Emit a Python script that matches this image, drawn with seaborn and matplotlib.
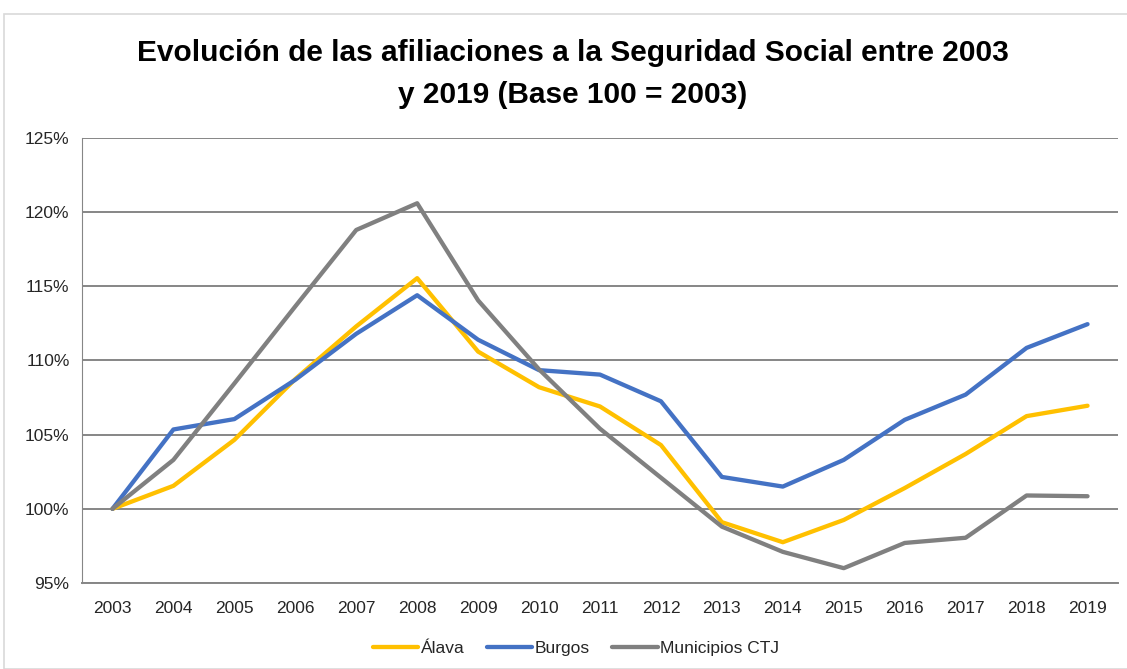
import numpy as np
import pandas as pd
import seaborn as sns
import matplotlib.pyplot as plt
from matplotlib.patches import Rectangle

# data (index, 2003 = 100)
years = [str(y) for y in range(2003, 2020)]
alava = [100.0, 101.55, 104.65, 108.75, 112.3, 115.55, 110.6, 108.2, 106.9,
         104.3, 99.1, 97.75, 99.25, 101.4, 103.7, 106.25, 106.95]
burgos = [100.0, 105.35, 106.05, 108.7, 111.8, 114.4, 111.4, 109.35, 109.05,
          107.25, 102.15, 101.5, 103.3, 106.0, 107.7, 110.85, 112.45]
ctj = [100.0, 103.3, 108.45, 113.65, 118.8, 120.6, 114.05, 109.4, 105.4,
       102.1, 98.8, 97.1, 96.0, 97.7, 98.05, 100.9, 100.85]
series = ["Álava", "Burgos", "Municipios CTJ"]
colors = {"Álava": "#FFC000", "Burgos": "#4472C4", "Municipios CTJ": "#808080"}

df = pd.DataFrame({
    "pos": list(range(len(years))) * 3,
    "valor": alava + burgos + ctj,
    "serie": [s for s in series for _ in years],
})

sns.set_style("white")
plt.rcParams['font.family'] = ['Liberation Sans', 'DejaVu Sans']

fig = plt.figure(figsize=(11.27, 6.69), dpi=100)
ax = fig.add_axes([82 / 1127, 1 - 583 / 669, (1118 - 82) / 1127, (583 - 138) / 669])

sns.lineplot(data=df, x="pos", y="valor", hue="serie", hue_order=series,
             palette=colors, linewidth=3.1, ax=ax)

ax.set_xlim(-0.5, len(years) - 0.5)
ax.set_ylim(95, 125)
ax.set_yticks(np.arange(95, 126, 5))
ax.set_yticklabels([f"{v}%" for v in range(95, 126, 5)], fontsize=12.5, color="#262626")
ax.set_xticks(range(len(years)))
ax.set_xticklabels(years, fontsize=12.5, color="#262626")
ax.tick_params(axis="x", length=0, pad=13)
ax.set_xticks(np.arange(-0.5, len(years), 1), minor=True)
ax.tick_params(axis="x", which="minor", length=7, color="#868686", width=1)
ax.tick_params(axis="y", length=6, color="#868686", width=1, pad=3)
ax.set_xlabel("")
ax.set_ylabel("")

ax.grid(axis="y", color="#868686", linewidth=1.4)
ax.set_axisbelow(True)
for side in ["top", "right"]:
    ax.spines[side].set_visible(False)
ax.spines["left"].set_color("#868686")
ax.spines["bottom"].set_color("#868686")
ax.spines["bottom"].set_linewidth(1.4)

leg = ax.legend(loc="center", bbox_to_anchor=(576 / 1127, 1 - 648 / 669),
                bbox_transform=fig.transFigure, ncol=3, frameon=False,
                fontsize=12.5, handlelength=2.6, columnspacing=1.3, handletextpad=0.15)
for t in leg.get_texts():
    t.set_color("#262626")

fig.text(573 / 1127, 1 - 53 / 669,
         "Evolución de las afiliaciones a la Seguridad Social entre 2003",
         ha="center", va="center", fontsize=21.5, fontweight="bold", color="black")
fig.text(573 / 1127, 1 - 95 / 669, "y 2019 (Base 100 = 2003)",
         ha="center", va="center", fontsize=21.5, fontweight="bold", color="black")

# chart border like the spreadsheet frame
fig.patches.append(Rectangle((4 / 1127, 0), 1.2, 1 - 14 / 669, transform=fig.transFigure,
                             fill=False, edgecolor="#d9d9d9", linewidth=1.2))

fig.savefig("out.png", dpi=100)
